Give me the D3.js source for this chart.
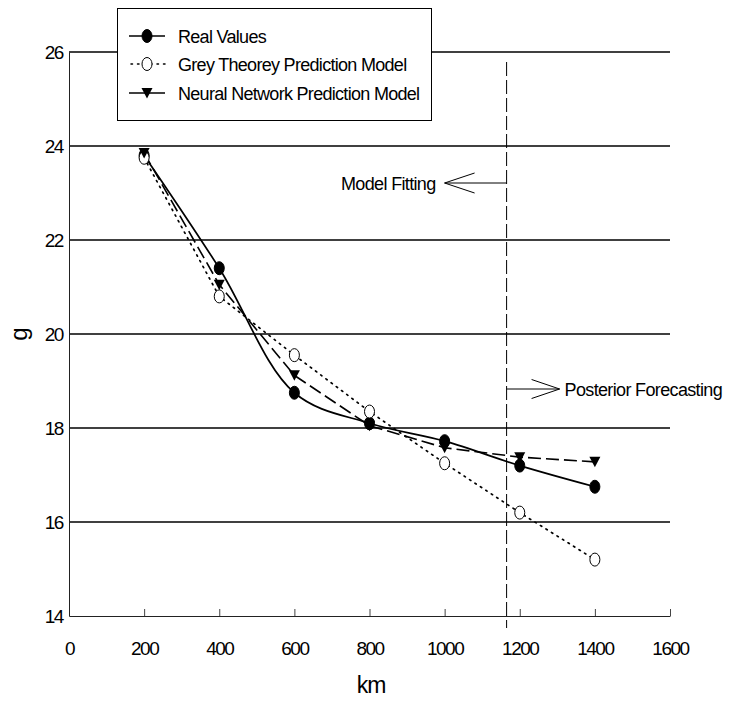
<!DOCTYPE html>
<html>
<head>
<meta charset="utf-8">
<script src="https://cdn.jsdelivr.net/npm/d3@7"></script>
<style>
  html, body { margin: 0; padding: 0; background: #fff; }
  text { font-family: "Liberation Sans", Arial, sans-serif; fill: #000; }
</style>
</head>
<body>
<svg id="chart" width="732" height="701"></svg>
<script>
// ---- data ----
const distances = [200, 400, 600, 800, 1000, 1200, 1400];
const realValues = [23.8, 21.4, 18.75, 18.1, 17.72, 17.2, 16.75];
const greyValues = [23.75, 20.8, 19.55, 18.35, 17.25, 16.2, 15.2];
const neuralValues = [23.85, 21.05, 19.12, 18.05, 17.58, 17.38, 17.28];
const seriesNames = ["Real Values", "Grey Theorey Prediction Model", "Neural Network Prediction Model"];
const xTicks = [0, 200, 400, 600, 800, 1000, 1200, 1400, 1600];
const yTicks = [14, 16, 18, 20, 22, 24, 26];
const dividerKm = 1165;
const annotations = ["Model Fitting", "Posterior Forecasting"];

// ---- layout ----
const svg = d3.select("#chart");
const x = d3.scaleLinear().domain([0, 1600]).range([69, 670]);
const y = d3.scaleLinear().domain([14, 26]).range([616, 52]);

// gridlines
svg.append("g").selectAll("line").data(yTicks.filter(d => d > 14)).join("line")
  .attr("x1", x(0)).attr("x2", x(1600))
  .attr("y1", d => y(d)).attr("y2", d => y(d))
  .attr("stroke", "#000").attr("stroke-width", 1.5);

// y axis
const yAxis = d3.axisLeft(y).tickValues(yTicks).tickSize(0).tickPadding(6).tickFormat(d3.format("d"));
const gy = svg.append("g").attr("transform", `translate(${x(0)},0)`).call(yAxis);
gy.select(".domain").attr("stroke", "#222").attr("stroke-width", 1);
gy.selectAll("text").attr("font-size", 19).attr("letter-spacing", "-1.4px")
  .attr("font-family", '"Liberation Sans", Arial, sans-serif').attr("fill", "#000");

// x axis (ticks inside)
const xAxis = d3.axisBottom(x).tickValues(xTicks).tickSizeInner(-7).tickSizeOuter(0).tickPadding(0).tickFormat(d3.format("d"));
const gx = svg.append("g").attr("transform", `translate(0,${y(14)})`).call(xAxis);
gx.select(".domain").attr("stroke", "#222").attr("stroke-width", 1);
gx.selectAll(".tick line").attr("stroke", "#444");
gx.selectAll(".tick").filter(d => d === 0).select("line").remove();
gx.selectAll("text").attr("font-size", 19).attr("letter-spacing", "-1.5px")
  .attr("font-family", '"Liberation Sans", Arial, sans-serif').attr("fill", "#000")
  .attr("dy", null).attr("y", 39);

// axis titles
svg.append("text").attr("x", 371).attr("y", 693).attr("text-anchor", "middle")
  .attr("font-size", 23).attr("letter-spacing", "-1px").text("km");
svg.append("text").attr("transform", `translate(27,${y(20)}) rotate(-90)`)
  .attr("text-anchor", "middle").attr("font-size", 24).text("g");

// divider
svg.append("line").attr("x1", x(dividerKm)).attr("x2", x(dividerKm))
  .attr("y1", 62).attr("y2", 628)
  .attr("stroke", "#000").attr("stroke-width", 1).attr("stroke-dasharray", "14,4");

// annotations
const ax = x(dividerKm);
const ay1 = 183, ay2 = 389;
svg.append("line").attr("x1", ax).attr("x2", ax - 62).attr("y1", ay1).attr("y2", ay1).attr("stroke", "#000");
svg.append("path").attr("d", `M${ax - 32},${ay1 - 10}L${ax - 62},${ay1}L${ax - 32},${ay1 + 10}`)
  .attr("fill", "none").attr("stroke", "#000");
svg.append("text").attr("x", ax - 71).attr("y", ay1 + 7).attr("text-anchor", "end")
  .attr("font-size", 18).attr("letter-spacing", "-0.65px").text(annotations[0]);
svg.append("line").attr("x1", ax).attr("x2", ax + 53).attr("y1", ay2).attr("y2", ay2).attr("stroke", "#000");
svg.append("path").attr("d", `M${ax + 25},${ay2 - 9.5}L${ax + 53},${ay2}L${ax + 25},${ay2 + 9.5}`)
  .attr("fill", "none").attr("stroke", "#000");
svg.append("text").attr("x", ax + 58).attr("y", ay2 + 7)
  .attr("font-size", 18).attr("letter-spacing", "-0.65px").text(annotations[1]);

// lines
const pts = vals => distances.map((d, i) => [x(d), y(vals[i])]);
svg.append("path").attr("d", d3.line().curve(d3.curveLinear)(pts(greyValues)))
  .attr("fill", "none").attr("stroke", "#000").attr("stroke-width", 1.7)
  .attr("stroke-dasharray", "1.5,5").attr("stroke-linecap", "round");
svg.append("path").attr("d", d3.line().curve(d3.curveLinear)(pts(neuralValues)))
  .attr("fill", "none").attr("stroke", "#000").attr("stroke-width", 1.6)
  .attr("stroke-dasharray", "13,5");
svg.append("path").attr("d", d3.line().curve(d3.curveCatmullRom.alpha(0.5))(pts(realValues)))
  .attr("fill", "none").attr("stroke", "#000").attr("stroke-width", 1.7);

// markers
const tri = "M-5.5,-5L5.5,-5L0,5.5Z";
function circleMarker(sel, filled) {
  sel.append("ellipse").attr("rx", 5).attr("ry", 6.5)
    .attr("fill", filled ? "#000" : "#fff").attr("stroke", "#000").attr("stroke-width", 1);
}
svg.append("g").selectAll("g").data(pts(realValues)).join("g")
  .attr("transform", d => `translate(${d[0]},${d[1]})`).call(s => circleMarker(s, true));
svg.append("g").selectAll("g").data(pts(greyValues)).join("g")
  .attr("transform", d => `translate(${d[0]},${d[1]})`).call(s => circleMarker(s, false));
svg.append("g").selectAll("path").data(pts(neuralValues)).join("path")
  .attr("transform", d => `translate(${d[0]},${d[1]})`).attr("d", tri).attr("fill", "#000");

// legend
const lg = svg.append("g");
lg.append("rect").attr("x", 117.5).attr("y", 8.5).attr("width", 314).attr("height", 112)
  .attr("fill", "#fff").attr("stroke", "#000").attr("stroke-width", 1);
const rows = [36, 64, 93];
const styles = [
  { dash: null, marker: "real" },
  { dash: "1.5,5", marker: "grey" },
  { dash: null, marker: "neural" }
];
rows.forEach((ry, i) => {
  const l = lg.append("line").attr("x1", 129).attr("x2", 165).attr("y1", ry).attr("y2", ry)
    .attr("stroke", "#000").attr("stroke-width", 1.5);
  if (styles[i].dash) l.attr("stroke-dasharray", styles[i].dash).attr("stroke-linecap", "round").attr("x1", 131);
  const m = lg.append("g").attr("transform", `translate(147,${ry})`);
  if (styles[i].marker === "real") circleMarker(m, true);
  else if (styles[i].marker === "grey") circleMarker(m, false);
  else m.append("path").attr("d", tri).attr("fill", "#000");
  lg.append("text").attr("x", 178).attr("y", ry + 6.5).attr("font-size", 18)
    .attr("letter-spacing", "-0.7px").text(seriesNames[i]);
});
</script>
</body>
</html>
